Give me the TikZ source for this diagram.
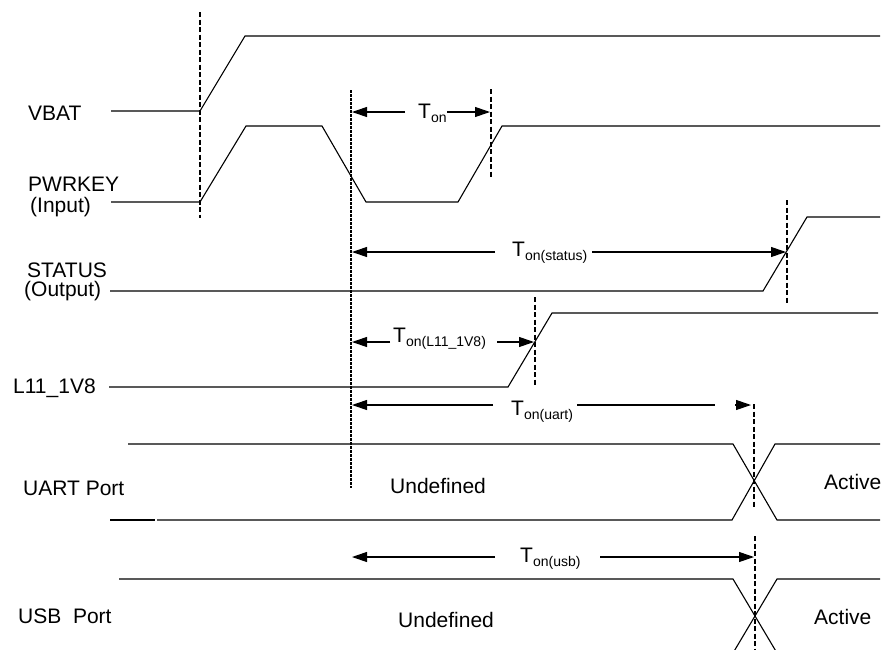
\documentclass[tikz,border=0pt]{standalone}
\usepackage{fontspec}
\setmainfont{Liberation Sans}
\usetikzlibrary{arrows.meta}
\newcommand\Tsubtxt[1]{T\raisebox{-4pt}{\fontsize{14}{14}\selectfont #1}}
\begin{document}
\begin{tikzpicture}[x=1pt,y=-1pt,
  wave/.style={line width=1.1pt, line join=miter},
  vdash/.style={line width=1.1pt, dash pattern=on 5pt off 2.5pt},
  fdash/.style={line width=1.2pt, dash pattern=on 3pt off 1pt},
  dimline/.style={line width=1.1pt},
  tipr/.style={line width=1.1pt, -{Triangle[length=15pt,width=10pt]}},
  lbl/.style={anchor=base west, inner sep=0pt, font=\fontsize{21}{21}\selectfont}]
\useasboundingbox (0,0) rectangle (887,649);
\begin{scope}
\clip (0,0) rectangle (887,649);
% waveforms
\draw[wave] (111,111) -- (200,111) -- (245,36) -- (880,36);
\draw[wave] (111,202) -- (200,202) -- (246,126) -- (322,126) -- (366,202) -- (458,202) -- (502,126) -- (880,126);
\draw[wave] (110,291) -- (763,291) -- (807,217) -- (880,217);
\draw[wave] (109,387) -- (508,387) -- (552,313) -- (878,313);
% UART
\draw[wave] (128,444) -- (733,444) -- (777,520) -- (880,520);
\draw[wave] (110,520) -- (155,520);
\draw[wave] (157,520) -- (732,520) -- (775,444) -- (880,444);
% USB
\draw[wave] (119,579) -- (733,579) -- (777,653);
\draw[wave] (880,579) -- (777,579) -- (733,653);

% dashed markers
\draw[vdash] (200,12) -- (200,218);
\draw[fdash] (351,90) -- (351,488);
\draw[vdash] (491,89) -- (491,177);
\draw[vdash] (787,200) -- (787,303);
\draw[vdash] (535,297) -- (535,385);
\draw[vdash] (754,404) -- (754,508);
\draw[vdash] (755,536) -- (755,649);

% timing arrows
\draw[tipr] (405,112) -- (352,112);
\draw[tipr] (447,112) -- (490,112);
\node[lbl] (ton) at (418,118) {\Tsubtxt{on}};

\draw[tipr] (495,252) -- (352,252);
\draw[tipr] (592,252) -- (786,252);
\node[lbl] (tonstatus) at (512,256) {\Tsubtxt{on(status)}};

\draw[tipr] (390,342) -- (352,342);
\draw[tipr] (497,342) -- (534,342);
\node[lbl] (tonl11) at (393,342) {\Tsubtxt{on(L11\_1V8)}};

\draw[tipr] (493,405) -- (352,405);
\draw[dimline] (577,405) -- (715,405);
\draw[tipr] (735,405) -- (751,405);
\node[lbl] (tonuart) at (511,415) {\Tsubtxt{on(uart)}};

\draw[tipr] (495,557) -- (352,557);
\draw[tipr] (600,557) -- (754,557);
\node[lbl] (tonusb) at (520,562) {\Tsubtxt{on(usb)}};
\end{scope}

% signal labels
\node[lbl] (vbat) at (28,120) {VBAT};
\node[lbl] (pwrkey) at (28,191) {PWRKEY};
\node[lbl] (input) at (30,212) {(Input)};
\node[lbl] (status) at (27,277) {STATUS};
\node[lbl] (output) at (24,296) {(Output)};
\node[lbl] (l11) at (13,393) {L11\_1V8};
\node[lbl] (uart) at (23,495) {UART Port};
\node[lbl] (usb) at (18,623) {USB\ \ Port};
\node[lbl] (undef1) at (390,493) {Undefined};
\node[lbl] (undef2) at (398,627) {Undefined};
\node[lbl] (act1) at (824,489) {Active};
\node[lbl] (act2) at (814,624) {Active};
\end{tikzpicture}
\end{document}
